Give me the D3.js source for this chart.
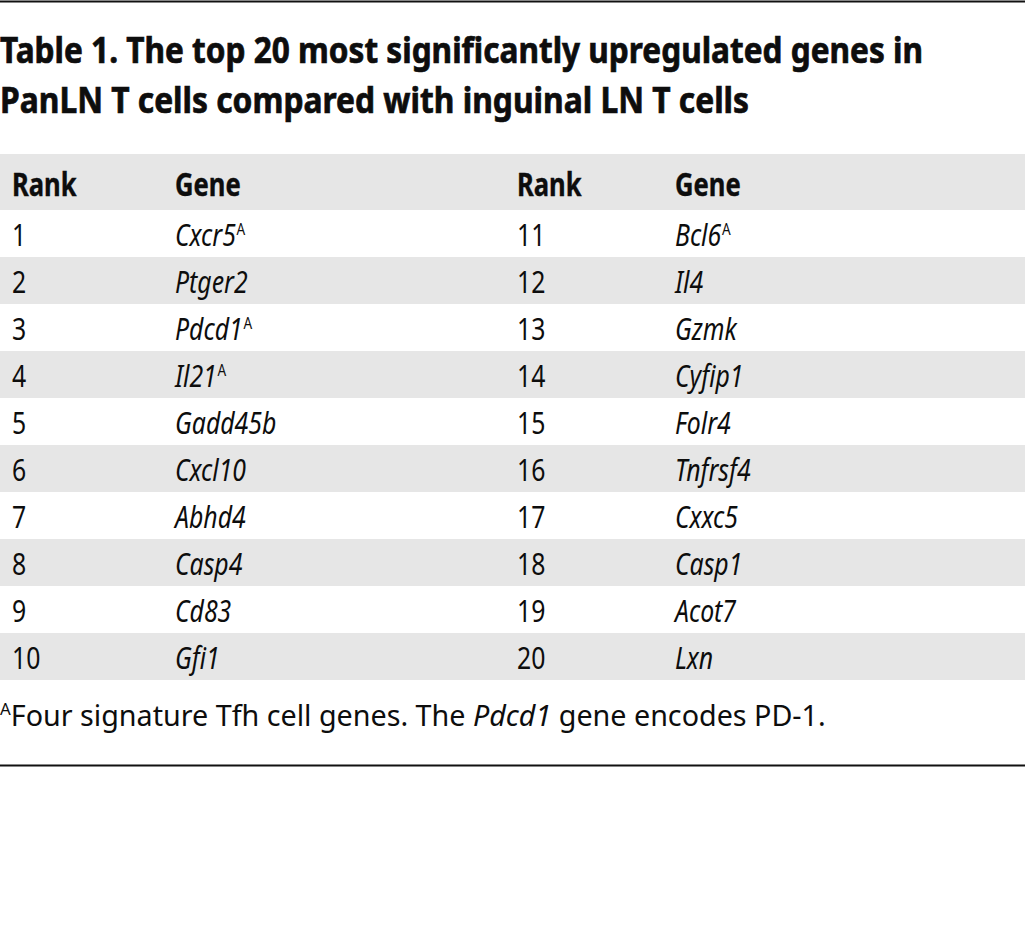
<!DOCTYPE html>
<html>
<head>
<meta charset="utf-8">
<script src="https://cdn.jsdelivr.net/npm/d3@7"></script>
<style>
  body { margin: 0; background: #fff; }
  text { fill: #0d0d0d; }
  .title { font-family: "Noto Sans", sans-serif; font-weight: bold; font-size: 35px; stroke: #0d0d0d; stroke-width: 0.7px; }
  .head { font-family: "Noto Sans", sans-serif; font-weight: bold; font-size: 32px; stroke: #0d0d0d; stroke-width: 0.4px; }
  .cell { font-family: "Noto Sans", sans-serif; font-size: 31px; }
  .gene { font-style: italic; }
  .note { font-family: "Noto Sans", sans-serif; font-size: 29px; }
</style>
</head>
<body>
<div id="chart"></div>
<script>
// table data
const titleLines = [
    "Table 1. The top 20 most significantly upregulated genes in",
    "PanLN T cells compared with inguinal LN T cells"
];
const headers = ["Rank", "Gene", "Rank", "Gene"];
const ranksLeft = [1, 2, 3, 4, 5, 6, 7, 8, 9, 10];
const genesLeft = ["Cxcr5", "Ptger2", "Pdcd1", "Il21", "Gadd45b", "Cxcl10", "Abhd4", "Casp4", "Cd83", "Gfi1"];
const ranksRight = [11, 12, 13, 14, 15, 16, 17, 18, 19, 20];
const genesRight = ["Bcl6", "Il4", "Gzmk", "Cyfip1", "Folr4", "Tnfrsf4", "Cxxc5", "Casp1", "Acot7", "Lxn"];
const tfhGenes = ["Cxcr5", "Pdcd1", "Il21", "Bcl6"];

const width = 1025, height = 927;
const squeeze = 0.8;   // condensed look for table text

const svg = d3.select("#chart").append("svg")
    .attr("width", width)
    .attr("height", height);

const yHead = 154, headH = 56, rowH = 47;
const y = d3.scaleBand()
    .domain(ranksLeft.map((d, i) => i))
    .range([yHead + headH, yHead + headH + rowH * ranksLeft.length]);

const x = d3.scaleOrdinal()
    .domain([0, 1, 2, 3])
    .range([12, 175, 517, 675]);

// top rule
svg.append("line")
    .attr("x1", 0).attr("x2", width)
    .attr("y1", 1.5).attr("y2", 1.5)
    .attr("stroke", "#111").attr("stroke-width", 2);

// title
svg.selectAll(".title")
    .data(titleLines)
    .enter()
    .append("text")
    .attr("class", "title")
    .attr("x", 0)
    .attr("y", (d, i) => 63 + i * 50)
    .attr("textLength", (d, i) => i === 0 ? 923 : 749)
    .attr("lengthAdjust", "spacingAndGlyphs")
    .text(d => d);

// header band
svg.append("rect")
    .attr("x", 0).attr("y", yHead)
    .attr("width", width).attr("height", headH)
    .attr("fill", "#e6e6e6");

headers.forEach((h, i) => {
    svg.append("g")
        .attr("transform", `translate(${x(i)},${yHead + 42}) scale(${squeeze},1)`)
        .append("text")
        .attr("class", "head")
        .text(h);
});

// striped rows
svg.selectAll(".stripe")
    .data(ranksLeft.map((d, i) => i).filter(i => i % 2 === 1))
    .enter()
    .append("rect")
    .attr("class", "stripe")
    .attr("x", 0)
    .attr("y", d => y(d))
    .attr("width", width)
    .attr("height", y.bandwidth())
    .attr("fill", "#e6e6e6");

function addColumn(values, col, isGene) {
    let g = svg.append("g")
        .attr("transform", `translate(${x(col)},0) scale(${squeeze},1)`);
    let t = g.selectAll("text")
        .data(values)
        .enter()
        .append("text")
        .attr("class", "cell" + (isGene ? " gene" : ""))
        .attr("x", 0)
        .attr("y", (d, i) => y(i) + 36.5);
    t.append("tspan").text(d => d);
    if (isGene) {
        t.filter(d => tfhGenes.includes(d))
            .append("tspan")
            .attr("dx", 1)
            .attr("dy", -11)
            .style("font-size", "17px")
            .style("font-style", "normal")
            .text("A");
    }
}
addColumn(ranksLeft, 0, false);
addColumn(genesLeft, 1, true);
addColumn(ranksRight, 2, false);
addColumn(genesRight, 3, true);

// footnote
const noteG = svg.append("g");
const note = noteG.append("text")
    .attr("class", "note")
    .attr("x", 0)
    .attr("y", 726);
note.append("tspan").attr("dy", -11).style("font-size", "17px").text("A");
note.append("tspan").attr("dy", 11).text("Four signature Tfh cell genes. The ");
note.append("tspan").style("font-style", "italic").text("Pdcd1");
note.append("tspan").text(" gene encodes PD-1.");
const noteW = note.node().getComputedTextLength();
noteG.attr("transform", `scale(${826 / noteW},1)`);

// bottom rule
svg.append("line")
    .attr("x1", 0).attr("x2", width)
    .attr("y1", 765.5).attr("y2", 765.5)
    .attr("stroke", "#111").attr("stroke-width", 2);
</script>
</body>
</html>
